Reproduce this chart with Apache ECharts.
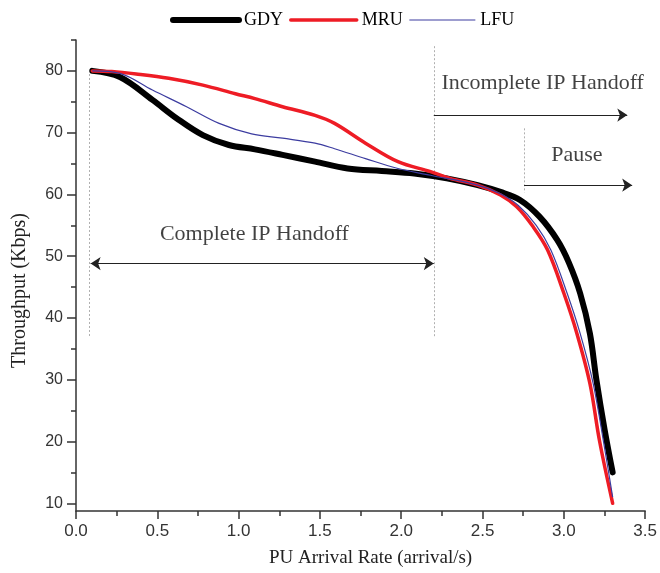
<!DOCTYPE html>
<html>
<head>
<meta charset="utf-8">
<script src="https://cdn.jsdelivr.net/npm/echarts@6/dist/echarts.min.js"></script>
<style>
  html, body { margin: 0; padding: 0; background: #fff; }
  #chart { width: 660px; height: 573px; }
</style>
</head>
<body>
<div id="chart"></div>
<script>
// throughput (Kbps) vs PU arrival rate
const gdy = [[0.1, 80], [0.27, 79.0], [0.47, 75.3], [0.62, 72.3], [0.78, 69.6], [0.94, 68.0],
  [1.1, 67.3], [1.27, 66.4], [1.47, 65.3], [1.67, 64.2], [1.88, 63.8], [2.08, 63.4], [2.28, 62.6],
  [2.47, 61.5], [2.61, 60.4], [2.73, 59.1], [2.85, 56.4], [2.96, 52.6], [3.03, 49], [3.1, 44],
  [3.16, 37.5], [3.2, 30], [3.25, 22], [3.3, 15]]
const mru = [[0.1, 80], [0.22, 79.9], [0.37, 79.5], [0.57, 78.8], [0.78, 77.7], [0.98, 76.3],
  [1.1, 75.5], [1.27, 74.2], [1.47, 72.8], [1.59, 71.5], [1.78, 68.3], [1.98, 65.3], [2.18, 63.7],
  [2.3, 62.6], [2.47, 61.5], [2.61, 59.9], [2.71, 58.0], [2.81, 54.8], [2.9, 51], [3.0, 44],
  [3.08, 37.5], [3.16, 29.4], [3.22, 20], [3.3, 10]]
const lfu = [[0.1, 80], [0.27, 79.6], [0.47, 76.9], [0.68, 74.2], [0.88, 71.5], [1.08, 69.8],
  [1.27, 69.1], [1.47, 68.3], [1.59, 67.4], [1.78, 65.8], [1.98, 64.2], [2.18, 63.1], [2.47, 61.5],
  [2.61, 60.1], [2.72, 58.2], [2.83, 55], [2.92, 51], [3.02, 44], [3.1, 37.5], [3.18, 29.4],
  [3.25, 19], [3.3, 11]]

const yTicks = [10, 20, 30, 40, 50, 60, 70, 80]
const yMinorTicks = [15, 25, 35, 45, 55, 65, 75, 85]

// dotted guides, arrows and notes (data coords)
const guides = [
  [[0.08, 79.5], [0.08, 37]],
  [[2.2, 84], [2.2, 37]],
  [[2.755, 70.7], [2.755, 60.3]]
]
const oneWayArrows = [
  [[2.2, 72.85], [3.39, 72.85]],
  [[2.755, 61.5], [3.42, 61.5]]
]
const twoWayArrows = [
  [[0.09, 48.8], [2.2, 48.8]]
]
const notes = [
  [1.097, 53.6, 'Complete IP Handoff'],
  [2.87, 78.0, 'Incomplete IP Handoff'],
  [3.08, 66.4, 'Pause']
]

const serif = 'Liberation Serif'
const sans = 'Liberation Sans'
const axisColor = '#333'

let chart = echarts.init(document.getElementById('chart'))

let option = {
  animation: false,
  legend: {
    data: [
      { name: 'GDY', lineStyle: { width: 6, cap: 'round' } },
      { name: 'MRU', lineStyle: { width: 3.5, cap: 'round' } },
      { name: 'LFU', lineStyle: { width: 1.2 } }
    ],
    left: 165,
    top: 6,
    itemWidth: 66,
    itemHeight: 14,
    itemGap: 6,
    itemStyle: { opacity: 0 },
    textStyle: { fontFamily: serif, fontSize: 18, color: '#000' }
  },
  grid: { left: 76, right: 11, top: 40, bottom: 62 },
  xAxis: {
    type: 'value',
    min: 0,
    max: 3.5,
    interval: 0.5,
    name: 'PU Arrival Rate (arrival/s)',
    nameLocation: 'middle',
    nameGap: 38,
    nameTextStyle: { fontFamily: serif, fontSize: 19, color: '#222', padding: [0, 0, 0, 20] },
    axisLine: { lineStyle: { color: axisColor, width: 1.5 } },
    axisTick: { length: 8, lineStyle: { color: axisColor, width: 1.5 } },
    minorTick: { show: true, splitNumber: 2, length: 5, lineStyle: { color: axisColor, width: 1.5 } },
    splitLine: { show: false },
    axisLabel: {
      formatter: v => v.toFixed(1),
      fontFamily: sans, fontSize: 17, color: '#333', margin: 12
    }
  },
  yAxis: [
    {
      type: 'value',
      min: 8.75,
      max: 85,
      name: 'Throughput (Kbps)',
      nameLocation: 'middle',
      nameGap: 46,
      nameTextStyle: { fontFamily: serif, fontSize: 20, color: '#222', padding: [0, 30, 0, 0] },
      axisLine: { show: true, lineStyle: { color: axisColor, width: 1.5 } },
      axisTick: { show: true, customValues: yTicks, length: 9, lineStyle: { color: axisColor, width: 1.5 } },
      splitLine: { show: false },
      axisLabel: { customValues: yTicks, fontFamily: sans, fontSize: 16, color: '#333', margin: 13 }
    },
    {
      type: 'value',
      min: 8.75,
      max: 85,
      position: 'left',
      axisLine: { show: false },
      axisTick: { show: true, customValues: yMinorTicks, length: 5, lineStyle: { color: axisColor, width: 1.5 } },
      axisLabel: { show: false },
      splitLine: { show: false }
    }
  ],
  series: [
    {
      type: 'lines',
      coordinateSystem: 'cartesian2d',
      silent: true,
      lineStyle: { color: '#b0b0b0', width: 1, type: [2, 2], opacity: 1 },
      data: guides.map(c => ({ coords: c }))
    },
    {
      type: 'lines',
      coordinateSystem: 'cartesian2d',
      silent: true,
      symbol: ['none', 'arrow'],
      symbolSize: 10,
      lineStyle: { color: '#222', width: 1, opacity: 1 },
      data: oneWayArrows.map(c => ({ coords: c }))
    },
    {
      type: 'lines',
      coordinateSystem: 'cartesian2d',
      silent: true,
      symbol: ['arrow', 'arrow'],
      symbolSize: 10,
      lineStyle: { color: '#222', width: 1, opacity: 1 },
      data: twoWayArrows.map(c => ({ coords: c }))
    },
    {
      type: 'scatter',
      silent: true,
      symbolSize: 1,
      itemStyle: { color: 'rgba(0,0,0,0)' },
      label: {
        show: true,
        position: 'inside',
        fontFamily: serif,
        fontSize: 22,
        color: '#111',
        formatter: p => p.data.note
      },
      data: notes.map(n => ({ value: [n[0], n[1]], note: n[2] }))
    },
    {
      name: 'GDY',
      type: 'line',
      data: gdy,
      smooth: 0.35,
      symbol: 'none',
      itemStyle: { color: '#000' },
      lineStyle: { color: '#000', width: 6, cap: 'round', join: 'round' },
      z: 3
    },
    {
      name: 'MRU',
      type: 'line',
      data: mru,
      smooth: 0.35,
      symbol: 'none',
      itemStyle: { color: '#ee1c25' },
      lineStyle: { color: '#ee1c25', width: 3.5, cap: 'round', join: 'round' },
      z: 4
    },
    {
      name: 'LFU',
      type: 'line',
      data: lfu,
      smooth: 0.35,
      symbol: 'none',
      itemStyle: { color: '#3c3ca0' },
      lineStyle: { color: '#3c3ca0', width: 1.2 },
      z: 5
    }
  ]
}

chart.setOption(option)
</script>
</body>
</html>
